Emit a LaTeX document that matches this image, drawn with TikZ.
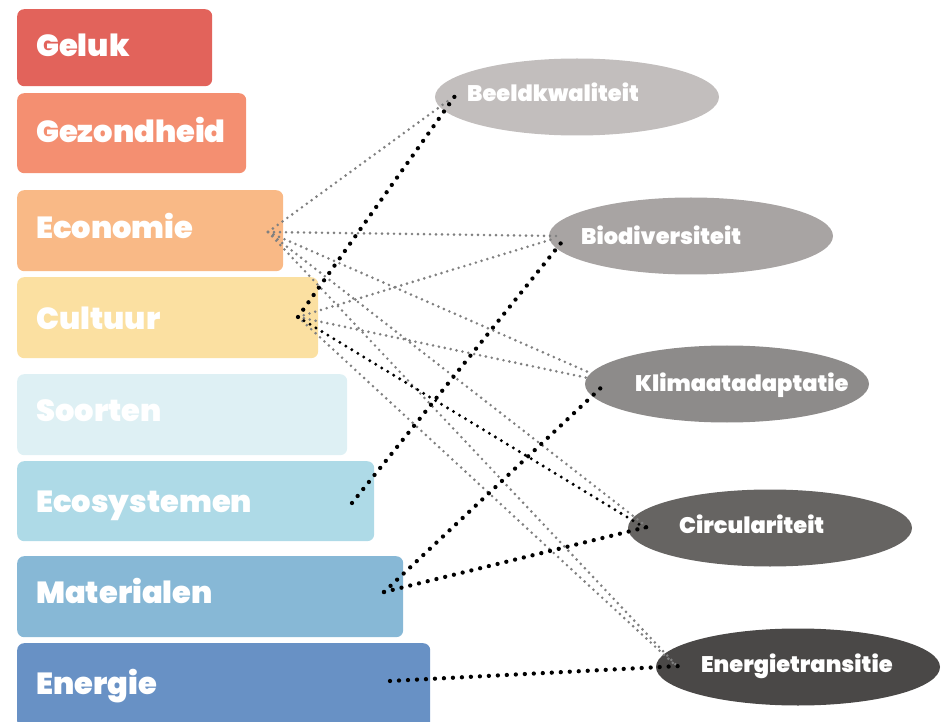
\documentclass[tikz,border=0pt]{standalone}
\usepackage{fontspec}
\IfFontExistsTF{Poppins Black}{\setmainfont{Poppins}[BoldFont={Poppins Black}]}{\IfFontExistsTF{Poppins ExtraBold}{\setmainfont{Poppins}[BoldFont={Poppins ExtraBold}]}{\setmainfont{Poppins}}}
\usetikzlibrary{shapes.geometric}
\definecolor{cGeluk}{HTML}{E2635B}
\definecolor{cGezond}{HTML}{F48F71}
\definecolor{cEcon}{HTML}{F9B986}
\definecolor{cCult}{HTML}{FBE0A1}
\definecolor{cSoort}{HTML}{DEF0F4}
\definecolor{cEco}{HTML}{AEDAE7}
\definecolor{cMat}{HTML}{87B8D6}
\definecolor{cEn}{HTML}{6891C5}
\definecolor{oBeeld}{HTML}{C2BEBD}
\definecolor{oBio}{HTML}{A8A4A3}
\definecolor{oKlim}{HTML}{8D8B8A}
\definecolor{oCirc}{HTML}{666462}
\definecolor{oEn}{HTML}{4A4847}
\definecolor{linkgray}{HTML}{808080}
\begin{document}
\begin{tikzpicture}[x=1pt,y=-1pt,
  bar/.style={draw=none, rounded corners=7pt, anchor=north west, inner sep=0pt, minimum height=80pt},
  bartext/.style={anchor=base west, text=white, font=\bfseries\fontsize{30.5}{30.5}\selectfont, inner sep=0pt},
  oval/.style={ellipse, draw=none, inner sep=0pt, minimum width=284pt, minimum height=77pt},
  ovaltext/.style={anchor=base west, text=white, font=\bfseries\fontsize{22.5}{22.5}\selectfont, inner sep=0pt},
  graylink/.style={draw=linkgray, line width=2.9pt, line cap=round, dash pattern=on 0pt off 6pt},
  blacklink/.style={draw=black, line width=4.3pt, line cap=round, dash pattern=on 0pt off 9pt},
  smallblack/.style={draw=black, line width=3.3pt, line cap=round, dash pattern=on 0pt off 7pt}
]
\useasboundingbox (0,0) rectangle (946,722);
% bars
\node[bar, fill=cGeluk, minimum width=195pt, minimum height=77pt] (geluk) at (17,9) {};
\node[bar, fill=cGezond, minimum width=229pt] (gezond) at (17,93) {};
\node[bar, fill=cEcon, minimum width=266pt, minimum height=81pt] (econ) at (17,190) {};
\node[bar, fill=cCult, minimum width=301pt, minimum height=81pt] (cult) at (17,277) {};
\node[bar, fill=cSoort, minimum width=330pt, minimum height=81pt] (soort) at (17,374) {};
\node[bar, fill=cEco, minimum width=357pt] (ecos) at (17,461) {};
\node[bar, fill=cMat, minimum width=386pt, minimum height=81pt] (mat) at (17,556) {};
\node[bar, fill=cEn, minimum width=413pt, minimum height=85pt] (energ) at (17,643) {};
\node[bartext] (t-geluk) at (36,57) {Geluk};
\node[bartext] (t-gezond) at (36,143) {Gezondheid};
\node[bartext] (t-econ) at (36,239) {Economie};
\node[bartext] (t-cult) at (36,330) {Cultuur};
\node[bartext] (t-soort) at (36,421) {Soorten};
\node[bartext] (t-ecos) at (36,512) {Ecosystemen};
\node[bartext] (t-mat) at (36,603) {Materialen};
\node[bartext] (t-energ) at (36,694) {Energie};
% ellipses
\node[oval, fill=oBeeld] (beeld) at (577,97) {};
\node[oval, fill=oBio] (bio) at (691,236) {};
\node[oval, fill=oKlim] (klim) at (727,384) {};
\node[oval, fill=oCirc] (circ) at (770,528) {};
\node[oval, fill=oEn] (entr) at (798,667) {};
\node[ovaltext] (t-beeld) at (467,102) {Beeldkwaliteit};
\node[ovaltext] (t-bio) at (581,245) {Biodiversiteit};
\node[ovaltext] (t-klim) at (635,391) {Klimaatadaptatie};
\node[ovaltext] (t-circ) at (679,533) {Circulariteit};
\node[ovaltext] (t-entr) at (701,672) {Energietransitie};
% connector ends
\coordinate (econ-o) at (268,232);
\coordinate (cult-o) at (298,317);
\coordinate (ecos-o) at (352,503);
\coordinate (mat-o) at (384,592);
\coordinate (energ-o) at (390,681);
\coordinate (beeld-g) at (452,98);
\coordinate (beeld-b) at (455,96);
\coordinate (bio-g1) at (556,236);
\coordinate (bio-g2) at (553,239);
\coordinate (bio-b) at (565,238);
\coordinate (klim-g1) at (588,372);
\coordinate (klim-g2) at (588,378);
\coordinate (klim-b) at (606,383);
\coordinate (circ-g) at (646,526);
\coordinate (circ-b1) at (650,531);
\coordinate (circ-b2) at (647,527);
\coordinate (entr-g1) at (678,667);
\coordinate (entr-g2) at (674,664);
\coordinate (entr-b) at (680,666);
% gray links
\draw[graylink] (econ-o) -- (beeld-g);
\draw[graylink] (econ-o) -- (bio-g1);
\draw[graylink] (econ-o) -- (klim-g1);
\draw[graylink] (econ-o) -- (circ-g);
\draw[graylink] (econ-o) -- (entr-g1);
\draw[graylink] (cult-o) -- (bio-g2);
\draw[graylink] (cult-o) -- (klim-g2);
\draw[graylink] (cult-o) -- (entr-g2);
% black links
\draw[blacklink] (cult-o) -- (beeld-b);
\draw[smallblack] (cult-o) -- (circ-b1);
\draw[blacklink] (ecos-o) -- (bio-b);
\draw[blacklink] (mat-o) -- (klim-b);
\draw[blacklink] (mat-o) -- (circ-b2);
\draw[blacklink] (energ-o) -- (entr-b);
\end{tikzpicture}
\end{document}
